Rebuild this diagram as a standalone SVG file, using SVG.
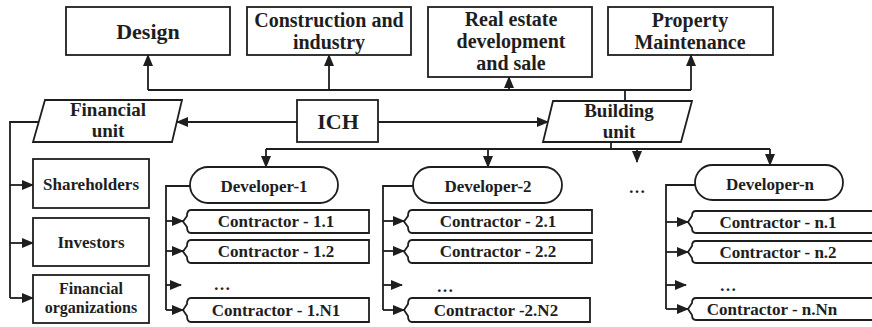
<svg xmlns="http://www.w3.org/2000/svg" width="872" height="327" viewBox="0 0 872 327">
  <style>
    .box { fill: #fff; stroke: #1e1e1e; stroke-width: 1.8; }
    .ln { fill: none; stroke: #1e1e1e; stroke-width: 1.8; }
    text { font-family: "Liberation Serif", "Times New Roman", serif; font-weight: bold; fill: #1e1e1e; text-anchor: middle; }
    .t20 { font-size: 20px; }
    .t19 { font-size: 19px; }
    .t22 { font-size: 22px; }
    .t17 { font-size: 17px; }
    .t16 { font-size: 16px; }
  </style>
  <defs>
    <marker id="arr" markerUnits="userSpaceOnUse" markerWidth="12" markerHeight="10" viewBox="0 0 12 10" refX="11" refY="5" orient="auto">
      <path d="M0,0 L12,5 L0,10 Z" fill="#1e1e1e"/>
    </marker>
  </defs>

  <rect width="872" height="327" fill="#fff"/>

  <!-- connectors -->
  <g id="connectors">
    <!-- top distribution line -->
    <path class="ln" d="M148,90 H691 M625,90 V101"/>
    <path class="ln" marker-end="url(#arr)" d="M148,90 V55"/>
    <path class="ln" marker-end="url(#arr)" d="M329,90 V55"/>
    <path class="ln" marker-end="url(#arr)" d="M509,90 V77"/>
    <path class="ln" marker-end="url(#arr)" d="M691,90 V55"/>
    <!-- ICH to units -->
    <path class="ln" marker-end="url(#arr)" d="M297,122 H177"/>
    <path class="ln" marker-end="url(#arr)" d="M378,122 H548"/>
    <!-- financial unit branches -->
    <path class="ln" d="M39,122 H10 V298"/>
    <path class="ln" marker-end="url(#arr)" d="M10,185 H33"/>
    <path class="ln" marker-end="url(#arr)" d="M10,243 H33"/>
    <path class="ln" marker-end="url(#arr)" d="M10,298 H33"/>
    <!-- building unit to developers -->
    <path class="ln" d="M266,149 H770 M611,142 V149"/>
    <path class="ln" marker-end="url(#arr)" d="M266,149 V167"/>
    <path class="ln" marker-end="url(#arr)" d="M488,149 V167"/>
    <path class="ln" marker-end="url(#arr)" d="M637,149 V162"/>
    <path class="ln" marker-end="url(#arr)" d="M770,149 V165"/>
    <!-- developer 1 contractors -->
    <path class="ln" d="M190,186 H166 V310"/>
    <path class="ln" marker-end="url(#arr)" d="M166,221 H183"/>
    <path class="ln" marker-end="url(#arr)" d="M166,251 H183"/>
    <path class="ln" marker-end="url(#arr)" d="M166,285 H181"/>
    <path class="ln" marker-end="url(#arr)" d="M166,310 H183"/>
    <!-- developer 2 contractors -->
    <path class="ln" d="M413,186 H383 V310"/>
    <path class="ln" marker-end="url(#arr)" d="M383,221 H404"/>
    <path class="ln" marker-end="url(#arr)" d="M383,251 H404"/>
    <path class="ln" marker-end="url(#arr)" d="M383,285 H402"/>
    <path class="ln" marker-end="url(#arr)" d="M383,310 H404"/>
    <!-- developer n contractors -->
    <path class="ln" d="M695,185 H666 V309"/>
    <path class="ln" marker-end="url(#arr)" d="M666,222 H688"/>
    <path class="ln" marker-end="url(#arr)" d="M666,252 H688"/>
    <path class="ln" marker-end="url(#arr)" d="M666,285 H686"/>
    <path class="ln" marker-end="url(#arr)" d="M666,309 H688"/>
  </g>

  <!-- top row -->
  <g id="design">
    <rect class="box" x="66" y="7" width="164" height="48"/>
    <text class="t22" x="148" y="39">Design</text>
  </g>
  <g id="construction">
    <rect class="box" x="247" y="7" width="164" height="48"/>
    <text class="t20" x="329" y="27">Construction and</text>
    <text class="t20" x="329" y="49">industry</text>
  </g>
  <g id="real-estate">
    <rect class="box" x="428" y="7" width="164" height="70"/>
    <text class="t20" x="511" y="26">Real estate</text>
    <text class="t20" x="511" y="48">development</text>
    <text class="t20" x="511" y="70">and sale</text>
  </g>
  <g id="maintenance">
    <rect class="box" x="608" y="7" width="165" height="48"/>
    <text class="t20" x="690" y="27">Property</text>
    <text class="t20" x="690" y="49">Maintenance</text>
  </g>

  <!-- middle row -->
  <g id="financial-unit">
    <polygon class="box" points="45,100 182,100 172,142 33,142"/>
    <text class="t19" x="108" y="116">Financial</text>
    <text class="t19" x="108" y="137">unit</text>
  </g>
  <g id="ich">
    <rect class="box" x="297" y="100" width="81" height="42"/>
    <text class="t22" x="338" y="129">ICH</text>
  </g>
  <g id="building-unit">
    <polygon class="box" points="553,101 692,101 681,142 543,142"/>
    <text class="t19" x="619" y="117">Building</text>
    <text class="t19" x="619" y="138">unit</text>
  </g>

  <!-- financial sources -->
  <g id="shareholders">
    <rect class="box" x="33" y="159" width="116" height="49"/>
    <text class="t17" x="91" y="190">Shareholders</text>
  </g>
  <g id="investors">
    <rect class="box" x="33" y="218" width="116" height="48"/>
    <text class="t17" x="91" y="248">Investors</text>
  </g>
  <g id="financial-organizations">
    <rect class="box" x="33" y="275" width="116" height="48"/>
    <text class="t16" x="91" y="294">Financial</text>
    <text class="t16" x="91" y="313">organizations</text>
  </g>

  <!-- developers -->
  <g id="developer-1">
    <rect class="box" x="190" y="167" width="148" height="36" rx="18"/>
    <text class="t17" x="264" y="192">Developer-1</text>
  </g>
  <g id="developer-2">
    <rect class="box" x="413" y="167" width="149" height="36" rx="18"/>
    <text class="t17" x="488" y="192">Developer-2</text>
  </g>
  <text class="t17" x="637" y="193">…</text>
  <g id="developer-n">
    <rect class="box" x="695" y="165" width="148" height="35" rx="17.5"/>
    <text class="t17" x="770" y="190">Developer-n</text>
  </g>

  <!-- contractors, column 1 -->
  <g id="contractor-1-1">
    <path class="box" d="M191,210 H369 V233 H191 Q187,233 187,227 L183,221.5 L187,216 Q187,210 191,210 Z"/>
    <text class="t17" x="276" y="227">Contractor - 1.1</text>
  </g>
  <g id="contractor-1-2">
    <path class="box" d="M191,240 H369 V263 H191 Q187,263 187,257 L183,251.5 L187,246 Q187,240 191,240 Z"/>
    <text class="t17" x="276" y="257">Contractor - 1.2</text>
  </g>
  <text class="t17" x="222" y="290">…</text>
  <g id="contractor-1-n1">
    <path class="box" d="M191,298 H369 V322 H191 Q187,322 187,316 L183,310 L187,304 Q187,298 191,298 Z"/>
    <text class="t17" x="276" y="316">Contractor - 1.N1</text>
  </g>

  <!-- contractors, column 2 -->
  <g id="contractor-2-1">
    <path class="box" d="M412,210 H592 V233 H412 Q408,233 408,227 L404,221.5 L408,216 Q408,210 412,210 Z"/>
    <text class="t17" x="498" y="227">Contractor - 2.1</text>
  </g>
  <g id="contractor-2-2">
    <path class="box" d="M412,240 H592 V263 H412 Q408,263 408,257 L404,251.5 L408,246 Q408,240 412,240 Z"/>
    <text class="t17" x="498" y="257">Contractor - 2.2</text>
  </g>
  <text class="t17" x="445" y="292">…</text>
  <g id="contractor-2-n2">
    <path class="box" d="M412,298 H590 V322 H412 Q408,322 408,316 L404,310 L408,304 Q408,298 412,298 Z"/>
    <text class="t17" x="496" y="316">Contractor -2.N2</text>
  </g>

  <!-- contractors, column n -->
  <g id="contractor-n-1">
    <path class="box" d="M696,211 H874 V233 H696 Q692,233 692,228 L688,222 L692,216 Q692,211 696,211 Z"/>
    <text class="t17" x="778" y="228">Contractor - n.1</text>
  </g>
  <g id="contractor-n-2">
    <path class="box" d="M696,241 H874 V263 H696 Q692,263 692,258 L688,252 L692,246 Q692,241 696,241 Z"/>
    <text class="t17" x="778" y="258">Contractor - n.2</text>
  </g>
  <text class="t17" x="728" y="291">…</text>
  <g id="contractor-n-nn">
    <path class="box" d="M696,298 H874 V320 H696 Q692,320 692,315 L688,309 L692,303 Q692,298 696,298 Z"/>
    <text class="t17" x="772" y="315">Contractor - n.Nn</text>
  </g>
</svg>
